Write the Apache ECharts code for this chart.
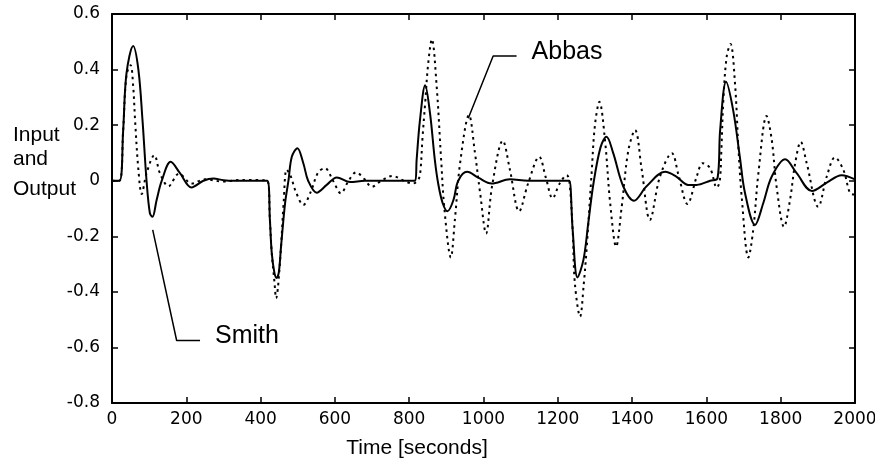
<!DOCTYPE html>
<html><head><meta charset="utf-8">
<script src="https://cdn.jsdelivr.net/npm/echarts@6.0.0/dist/echarts.min.js"></script>
<style>html,body{margin:0;padding:0;background:#fff}#c{width:875px;height:475px}</style>
</head><body><div id="c"></div>
<script>
// Smith (solid line)
const smithTime = [0,20,30,39,57,71,82,93,102,109,120,134,158,183,214,246,273,300,330,418,425,430,437,443,449,455,466,475,484,499,515,528,551,578,605,641,680,816,820,829,843,856,869,878,890,903,919,932,956,987,1022,1071,1120,1224,1231,1240,1253,1269,1282,1296,1315,1331,1349,1376,1405,1439,1489,1519,1551,1574,1610,1630,1637,1653,1672,1690,1704,1731,1753,1776,1812,1843,1884,1924,1964,2000];
const smithValue = [0,0,0.18,0.386,0.485,0.40,0.22,0,-0.117,-0.13,-0.07,0,0.068,0.027,-0.024,0,0.008,0.002,0,0,-0.14,-0.26,-0.33,-0.35,-0.33,-0.237,-0.08,0,0.086,0.117,0.063,0,-0.043,-0.015,0.012,-0.005,0,0,0.075,0.218,0.344,0.243,0.075,-0.01,-0.08,-0.11,-0.07,0,0.032,0.01,-0.01,0.005,0,0,0,-0.177,-0.348,-0.285,-0.153,-0.01,0.12,0.158,0.1,-0.02,-0.072,-0.02,0.032,0.015,-0.015,-0.015,0,0.009,0.182,0.356,0.254,0.086,-0.045,-0.159,-0.081,0.015,0.077,0.027,-0.037,-0.007,0.02,0.005];
// Abbas (dotted line)
const abbasTime = [0,20,30,39,50,57,62,71,80,93,114,129,152,180,215,250,300,350,418,425,430,437,442,447,455,462,470,480,495,515,535,555,573,595,616,637,657,680,699,725,755,785,810,822,829,836,843,851,861,874,886,895,912,923,937,961,977,991,1007,1023,1052,1071,1096,1120,1150,1168,1186,1205,1224,1231,1240,1246,1260,1270,1278,1291,1300,1312,1327,1341,1357,1372,1390,1408,1426,1448,1475,1507,1525,1549,1574,1590,1610,1628,1636,1640,1646,1655,1665,1677,1686,1695,1713,1726,1740,1762,1776,1789,1809,1825,1839,1854,1870,1901,1924,1946,1969,1987,2000];
const abbasValue = [0,0,0.18,0.38,0.416,0.34,0.22,0.04,-0.048,0.027,0.092,0.027,-0.02,0.025,-0.01,0.005,-0.003,0.003,0,-0.14,-0.26,-0.36,-0.423,-0.38,-0.237,-0.08,0.04,0.02,-0.04,-0.087,-0.04,0.03,0.045,0,-0.045,0,0.03,0.005,-0.022,0,0.017,0,-0.01,0,0.02,0.158,0.28,0.42,0.509,0.338,0.075,-0.105,-0.276,-0.14,0.063,0.236,0.1,-0.045,-0.19,-0.02,0.144,0.04,-0.11,-0.01,0.086,0.01,-0.063,-0.01,0.02,0,-0.177,-0.37,-0.489,-0.37,-0.237,0.027,0.2,0.284,0.146,-0.081,-0.237,-0.094,0.11,0.182,0.039,-0.141,0.015,0.099,0.02,-0.084,0.015,0.063,0.045,-0.025,0,0.1,0.30,0.45,0.492,0.35,0.122,-0.058,-0.276,-0.177,0.027,0.233,0.146,-0.022,-0.166,-0.07,0.063,0.14,0.063,-0.094,0.015,0.084,0.038,-0.045,-0.05];

// Annotation leader lines (data coordinates)
const smithLeader = [[109.6,-0.177],[174,-0.575],[237,-0.575]];
const abbasLeader = [[959,0.225],[1026,0.449],[1089,0.449]];

const xMin = 0, xMax = 2000, xStep = 200;
const yMin = -0.8, yMax = 0.6, yStep = 0.2;
const yTitleLines = ['Input', 'and', 'Output'];
const xTitle = 'Time [seconds]';

const zip = (a, b) => a.map((t, i) => [t, b[i]]);

const chart = echarts.init(document.getElementById('c'), null, {renderer: 'canvas'});
const tickFont = {color: '#000', fontFamily: 'DejaVu Sans', fontSize: 17};
const frameLine = {show: true, onZero: false, lineStyle: {color: '#000', width: 2}};
const tick = {show: true, inside: true, length: 6, lineStyle: {color: '#000', width: 1.5}};

chart.setOption({
  animation: false,
  backgroundColor: '#fff',
  grid: {left: 112, right: 20, top: 14, bottom: 72, containLabel: false, outerBoundsMode: 'none'},
  xAxis: [
    {type: 'value', min: xMin, max: xMax, interval: xStep, position: 'bottom',
     axisLine: frameLine, axisTick: tick, splitLine: {show: false},
     axisLabel: Object.assign({margin: 8, formatter: v => String(v)}, tickFont)},
    {type: 'value', min: xMin, max: xMax, interval: xStep, position: 'top',
     axisLine: frameLine, axisTick: tick, splitLine: {show: false}, axisLabel: {show: false}}
  ],
  yAxis: [
    {type: 'value', min: yMin, max: yMax, interval: yStep, position: 'left',
     axisLine: frameLine, axisTick: tick, splitLine: {show: false},
     axisLabel: Object.assign({margin: 12, formatter: v => String(Math.round(v * 10) / 10)}, tickFont)},
    {type: 'value', min: yMin, max: yMax, interval: yStep, position: 'right',
     axisLine: frameLine, axisTick: tick, splitLine: {show: false}, axisLabel: {show: false}}
  ],
  series: [
    {name: 'Abbas', type: 'line', data: zip(abbasTime, abbasValue), showSymbol: false, symbol: 'none',
     smooth: 0.35, lineStyle: {color: '#000', width: 2, type: [2.5, 4]}, silent: true, z: 2},
    {name: 'Smith', type: 'line', data: zip(smithTime, smithValue), showSymbol: false, symbol: 'none',
     smooth: 0.35, lineStyle: {color: '#000', width: 2}, silent: true, z: 3},
    {name: 'smithLeader', type: 'line', data: smithLeader, symbol: 'none', smooth: false,
     lineStyle: {color: '#000', width: 1.5}, silent: true, z: 4},
    {name: 'abbasLeader', type: 'line', data: abbasLeader, symbol: 'none', smooth: false,
     lineStyle: {color: '#000', width: 1.5}, silent: true, z: 4}
  ]
});

const sEnd = chart.convertToPixel({gridIndex: 0}, smithLeader[smithLeader.length - 1]);
const aEnd = chart.convertToPixel({gridIndex: 0}, abbasLeader[abbasLeader.length - 1]);
const titleFont = 'Liberation Sans, Arial, sans-serif';
const txt = (text, x, y, size, align) => ({
  type: 'text', x: x, y: y, silent: true,
  style: {text: text, fill: '#000', font: size + 'px ' + titleFont, textAlign: align || 'left', textVerticalAlign: 'middle'}
});
chart.setOption({
  graphic: [
    txt(yTitleLines[0], 13, 135, 21),
    txt(yTitleLines[1], 13, 159.5, 21),
    txt(yTitleLines[2], 13, 189.5, 21),
    txt(xTitle, 417, 448, 21, 'center'),
    txt('Smith', sEnd[0] + 15, sEnd[1] - 4.5, 25),
    txt('Abbas', aEnd[0] + 15, aEnd[1] - 4, 25)
  ]
});
</script>
</body></html>
